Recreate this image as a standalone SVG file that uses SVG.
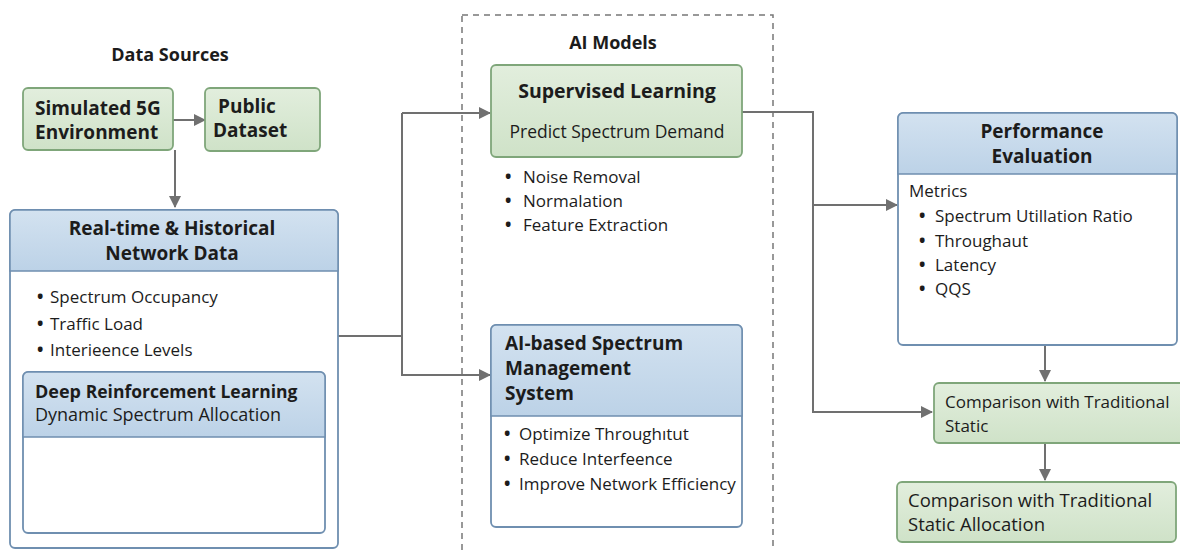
<svg xmlns="http://www.w3.org/2000/svg" width="1180" height="550" viewBox="0 0 1180 550">
<defs>
<linearGradient id="gG" x1="0" y1="0" x2="0" y2="1"><stop offset="0" stop-color="#e2eedd"/><stop offset="1" stop-color="#cfe2c8"/></linearGradient>
<linearGradient id="bG" x1="0" y1="0" x2="0" y2="1"><stop offset="0" stop-color="#d3e2f0"/><stop offset="1" stop-color="#bcd2e7"/></linearGradient>
<marker id="ah" viewBox="0 0 12 12" refX="11" refY="6" markerWidth="12" markerHeight="12" markerUnits="userSpaceOnUse" orient="auto"><path d="M0,0 L12,6 L0,12 Z" fill="#707070"/></marker>
</defs>
<style>
text{font-family:"Open Sans","Noto Sans","Liberation Sans",sans-serif;fill:#1c1c1c}
.b{font-weight:bold}
.t{font-size:19px;font-weight:bold}
.s{font-size:17px}
.d{font-weight:bold}
.g{fill:url(#gG);stroke:#7fa67a;stroke-width:1.8}
.bx{fill:#ffffff;stroke:#6f8fb0;stroke-width:1.8}
.hd{fill:url(#bG);stroke:#6f8fb0;stroke-width:1.5}
.c{fill:none;stroke:#707070;stroke-width:2}
</style>
<rect width="1180" height="550" fill="#ffffff"/>

<text x="170" y="61" text-anchor="middle" class="b" style="font-size:18px">Data Sources</text>

<g id="dashed-ai-models">
<rect x="462" y="15" width="311" height="545" fill="none" stroke="#777" stroke-width="1.5" stroke-dasharray="6,5"/>
<text x="613" y="49" text-anchor="middle" class="b" style="font-size:18px">AI Models</text>
</g>

<g id="connectors">
<line class="c" x1="173" y1="120" x2="205" y2="120" marker-end="url(#ah)"/>
<line class="c" x1="175" y1="150" x2="175" y2="207" marker-end="url(#ah)"/>
<polyline class="c" points="338,336 402,336"/>
<polyline class="c" points="402,113 402,375 490,375" marker-end="url(#ah)"/>
<line class="c" x1="402" y1="113" x2="490" y2="113" marker-end="url(#ah)"/>
<polyline class="c" points="742,112 813,112 813,412 932,412" marker-end="url(#ah)"/>
<line class="c" x1="813" y1="205" x2="897" y2="205" marker-end="url(#ah)"/>
<line class="c" x1="1045" y1="345" x2="1045" y2="381" marker-end="url(#ah)"/>
<line class="c" x1="1045" y1="443" x2="1045" y2="480" marker-end="url(#ah)"/>
</g>

<g id="sim5g">
<rect class="g" x="23" y="88" width="150" height="62" rx="5"/>
<text x="35" y="115" class="t">Simulated 5G</text>
<text x="35" y="139" class="t">Environment</text>
</g>

<g id="public-dataset">
<rect class="g" x="205" y="88" width="115" height="63" rx="5"/>
<text x="218" y="113" class="t">Public</text>
<text x="213" y="137" class="t">Dataset</text>
</g>

<g id="realtime">
<rect class="bx" x="10" y="210" width="328" height="338" rx="5"/>
<path class="hd" d="M10,271 V215 a5,5 0 0 1 5,-5 H333 a5,5 0 0 1 5,5 V271 Z"/>
<text x="172" y="235" text-anchor="middle" class="t">Real-time &amp; Historical</text>
<text x="172" y="260" text-anchor="middle" class="t">Network Data</text>
<text class="s" y="303"><tspan x="37" class="d">•</tspan><tspan x="50">Spectrum Occupancy</tspan></text>
<text class="s" y="330"><tspan x="37" class="d">•</tspan><tspan x="50">Traffic Load</tspan></text>
<text class="s" y="356"><tspan x="37" class="d">•</tspan><tspan x="50">Interieence Levels</tspan></text>
</g>

<g id="drl">
<rect class="bx" x="23" y="372" width="302" height="161" rx="5"/>
<path class="hd" d="M23,437 V377 a5,5 0 0 1 5,-5 H320 a5,5 0 0 1 5,5 V437 Z"/>
<text x="35" y="398" class="b" style="font-size:18px">Deep <tspan style="font-size:17.5px">Reinforcement Learning</tspan></text>
<text x="35" y="421" style="font-size:18px">Dynamic Spectrum Allocation</text>
</g>

<g id="supervised">
<rect class="g" x="491" y="65" width="251" height="92" rx="5"/>
<text x="617" y="98" text-anchor="middle" class="b" style="font-size:19.5px">Supervised Learning</text>
<text x="617" y="138" text-anchor="middle" style="font-size:17.5px">Predict Spectrum Demand</text>
<text class="s" y="183"><tspan x="505" class="d">•</tspan><tspan x="523">Noise Removal</tspan></text>
<text class="s" y="207"><tspan x="505" class="d">•</tspan><tspan x="523">Normalation</tspan></text>
<text class="s" y="231"><tspan x="505" class="d">•</tspan><tspan x="523">Feature Extraction</tspan></text>
</g>

<g id="ai-spectrum">
<rect class="bx" x="491" y="325" width="251" height="202" rx="5"/>
<path class="hd" d="M491,416 V330 a5,5 0 0 1 5,-5 H737 a5,5 0 0 1 5,5 V416 Z"/>
<text x="505" y="350" class="t">AI-based Spectrum</text>
<text x="505" y="375" class="t">Management</text>
<text x="505" y="400" class="t">System</text>
<text class="s" y="440"><tspan x="504" class="d">•</tspan><tspan x="519">Optimize Throughıtut</tspan></text>
<text class="s" y="465"><tspan x="504" class="d">•</tspan><tspan x="519">Reduce Interfeence</tspan></text>
<text class="s" y="490"><tspan x="504" class="d">•</tspan><tspan x="519">Improve Network Efficiency</tspan></text>
</g>

<g id="performance">
<rect class="bx" x="898" y="113" width="279" height="232" rx="5"/>
<path class="hd" d="M898,174 V118 a5,5 0 0 1 5,-5 H1172 a5,5 0 0 1 5,5 V174 Z"/>
<text x="1042" y="138" text-anchor="middle" class="t">Performance</text>
<text x="1042" y="163" text-anchor="middle" class="t">Evaluation</text>
<text x="909" y="197" class="s">Metrics</text>
<text class="s" y="222"><tspan x="919" class="d">•</tspan><tspan x="935">Spectrum Utillation Ratio</tspan></text>
<text class="s" y="247"><tspan x="919" class="d">•</tspan><tspan x="935">Throughaut</tspan></text>
<text class="s" y="271"><tspan x="919" class="d">•</tspan><tspan x="935">Latency</tspan></text>
<text class="s" y="295"><tspan x="919" class="d">•</tspan><tspan x="935">QQS</tspan></text>
</g>

<g id="comparison-static">
<rect class="g" x="934" y="383" width="256" height="60" rx="5"/>
<text x="945" y="408" class="s">Comparison with Traditional</text>
<text x="945" y="432" class="s">Static</text>
</g>

<g id="comparison-allocation">
<rect class="g" x="897" y="482" width="279" height="60" rx="5"/>
<text x="908" y="507" style="font-size:18.5px">Comparison with Traditional</text>
<text x="908" y="531" style="font-size:18.5px">Static Allocation</text>
</g>
</svg>
